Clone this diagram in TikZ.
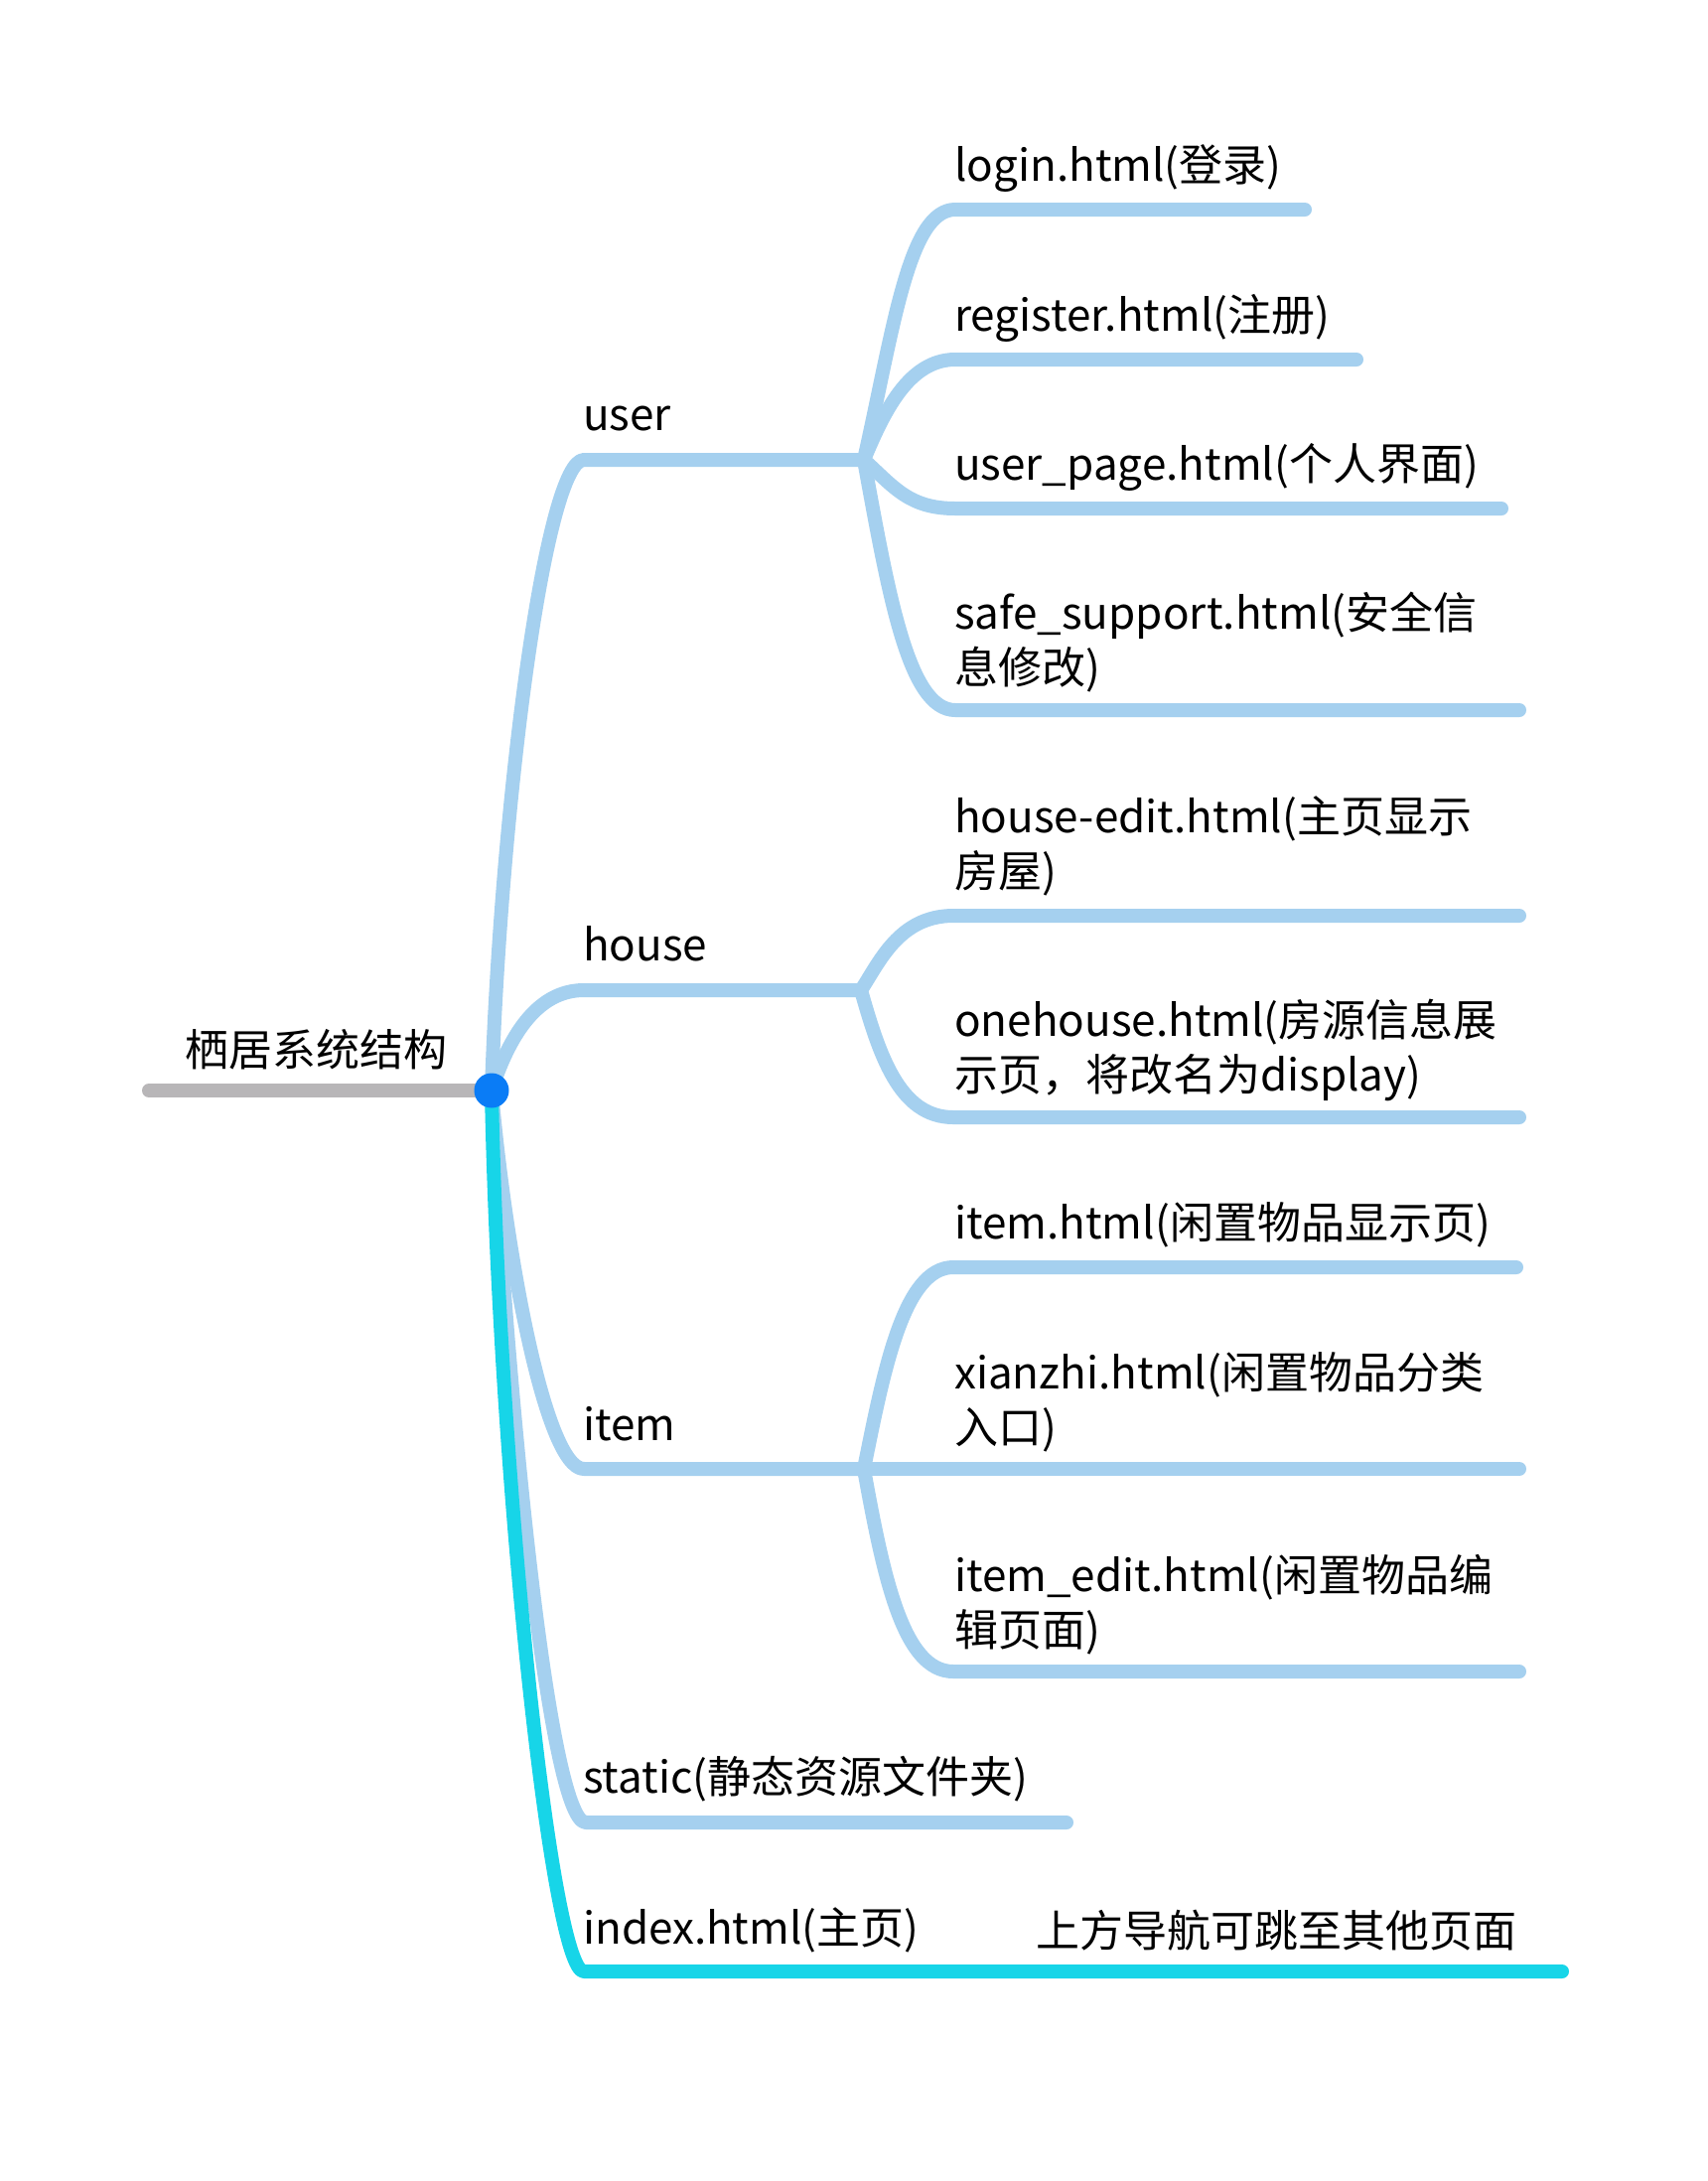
\documentclass[tikz,border=0pt]{standalone}
\usepackage{fontspec}
\setmainfont{Noto Sans CJK SC}
\definecolor{lblue}{HTML}{A5D0EF}
\definecolor{cyanl}{HTML}{17D5E8}
\definecolor{grayl}{HTML}{B8B6B8}
\definecolor{dotblue}{HTML}{0A7CF6}
\begin{document}
\begin{tikzpicture}[x=1pt,y=-1pt,line cap=round,line join=round,
  txt/.style={anchor=base west,inner sep=0pt,font=\fontsize{44}{55}\selectfont,align=left},
  br/.style={draw=lblue,line width=14pt},
  brc/.style={draw=cyanl,line width=14pt}]
\fill[white] (0,0) rectangle (1720,2196);
\useasboundingbox (0,0) rectangle (1720,2196);
% key points
\coordinate (R) at (495,1098);
\coordinate (G) at (150,1098);
\coordinate (Cu) at (588,463);  \coordinate (Hu) at (870,463);
\coordinate (Ch) at (588,997);  \coordinate (Hh) at (867,997);
\coordinate (Ci) at (588,1479); \coordinate (Hi) at (870,1479);
\coordinate (Cs) at (590,1835); \coordinate (Es) at (1074,1835);
\coordinate (Cx) at (588,1985); \coordinate (Jx) at (950,1985); \coordinate (Ex) at (1573,1985);
% sub-branch start / end points
\coordinate (S1) at (962,211);  \coordinate (E1) at (1314,211);
\coordinate (S2) at (962,362);  \coordinate (E2) at (1366,362);
\coordinate (S3) at (962,512);  \coordinate (E3) at (1512,512);
\coordinate (S4) at (962,715);  \coordinate (E4) at (1530,715);
\coordinate (S5) at (960,922);  \coordinate (E5) at (1530,922);
\coordinate (S6) at (960,1125); \coordinate (E6) at (1530,1125);
\coordinate (S7) at (960,1276); \coordinate (E7) at (1527,1276);
\coordinate (E8) at (1530,1479);
\coordinate (S9) at (960,1683); \coordinate (E9) at (1530,1683);
% root line
\draw[grayl,line width=14pt] (G) -- (R);
% main branches
\draw[br] (R) .. controls (505,800) and (550,463) .. (Cu) -- (Hu);
\draw[br] (R) .. controls (512,1045) and (540,997) .. (Ch) -- (Hh);
\draw[br] (R) .. controls (508,1250) and (548,1479) .. (Ci) -- (Hi);
\draw[br] (R) .. controls (510,1400) and (553,1835) .. (Cs) -- (Es);
% user children
\draw[br] (Hu) .. controls (900,330) and (915,211) .. (S1) -- (E1);
\draw[br] (Hu) .. controls (890,415) and (915,362) .. (S2) -- (E2);
\draw[br] (Hu) .. controls (900,490) and (915,512) .. (S3) -- (E3);
\draw[br] (Hu) .. controls (895,600) and (915,715) .. (S4) -- (E4);
% house children
\draw[br] (Hh) .. controls (885,970) and (905,922) .. (S5) -- (E5);
\draw[br] (Hh) .. controls (885,1060) and (905,1125) .. (S6) -- (E6);
% item children
\draw[br] (Hi) .. controls (890,1380) and (910,1276) .. (S7) -- (E7);
\draw[br] (Hi) -- (E8);
\draw[br] (Hi) .. controls (890,1590) and (910,1683) .. (S9) -- (E9);
% index branch
\draw[brc] (R) .. controls (503,1500) and (556,1985) .. (Cx) -- (Jx) -- (Ex);
% root dot
\fill[dotblue] (R) circle (17.5);
% texts
\node[txt] (root) at (186,1073) {栖居系统结构};
\node[txt] (user) at (587,433) {user};
\node[txt] (house) at (587,967) {house};
\node[txt] (item) at (587,1450) {item};
\node[txt] (static) at (587,1805) {static(静态资源文件夹)};
\node[txt] (index) at (587,1957) {index.html(主页)};
\node[txt] (nav) at (1043,1960) {上方导航可跳至其他页面};
\node[txt] (login) at (961,182) {login.html(登录)};
\node[txt] (register) at (961,333) {register.html(注册)};
\node[txt] (userpage) at (961,483) {user\_page.html(个人界面)};
\node[txt] (safe) at (961,688) {safe\_support.html(安全信\\息修改)};
\node[txt] (hedit) at (961,893) {house-edit.html(主页显示\\房屋)};
\node[txt] (onehouse) at (961,1098) {onehouse.html(房源信息展\\示页，将改名为display)};
\node[txt] (itemhtml) at (961,1247) {item.html(闲置物品显示页)};
\node[txt] (xianzhi) at (961,1453) {xianzhi.html(闲置物品分类\\入口)};
\node[txt] (itemedit) at (961,1657) {item\_edit.html(闲置物品编\\辑页面)};
\end{tikzpicture}
\end{document}
